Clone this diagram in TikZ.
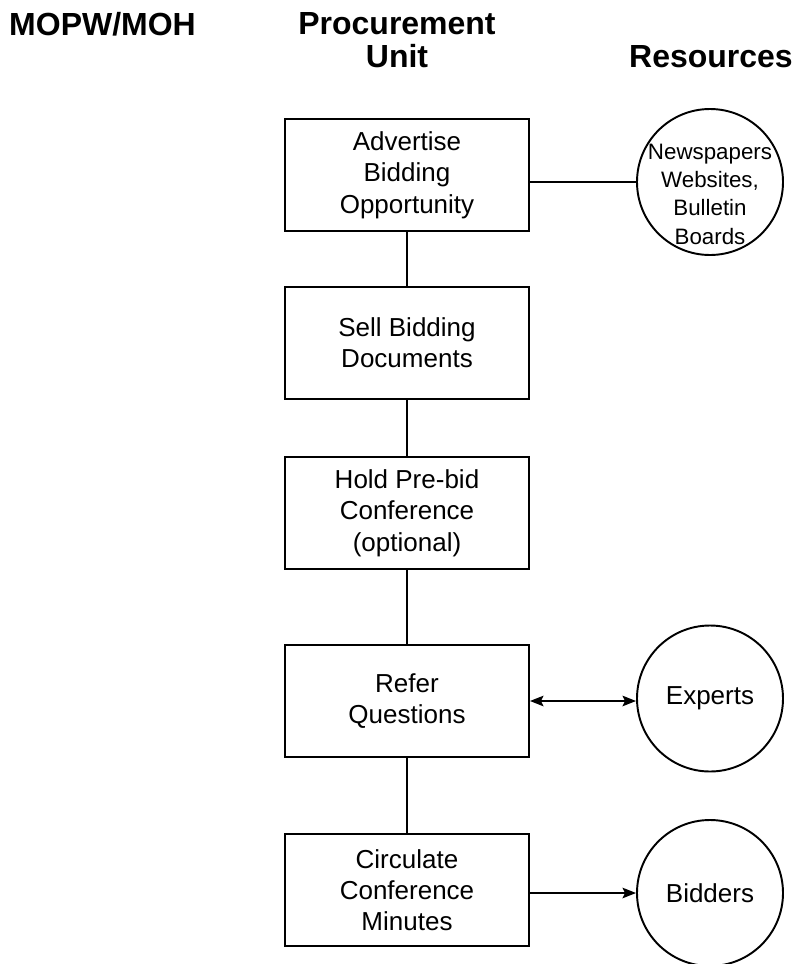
\documentclass[tikz,border=0pt]{standalone}
\usepackage{fontspec}
\setmainfont{Liberation Sans}
\usepackage{tikz}
\usetikzlibrary{calc, arrows, arrows.meta}
\tikzstyle{task}=[draw, line width=1.1pt, minimum width=4.88cm, minimum height=2.24cm, align=center, font=\fontsize{14.8}{17.8}\selectfont]
\tikzstyle{res} = [draw, circle, line width=1.1pt, minimum size=2.92cm, inner sep=0pt, align=center, font=\fontsize{14.8}{17.8}\selectfont]
\tikzstyle{head}=[align=center, font=\fontsize{18.2}{18.8}\selectfont\bfseries]

\begin{document}
\begin{tikzpicture}[node distance=2cm,auto,>={Stealth[length=0.27cm,width=0.21cm,inset=0.05cm]},line width=1.1pt]
      \useasboundingbox (0,0) rectangle (15.92,-19.28);

      \node [head] (moh) at (2.05,-0.48) {MOPW/MOH};
      \node [head] (unit) at (7.94,-0.81) {Procurement\\Unit};
      \node [head] (resh) at (14.22,-1.14) {Resources};

      \node [task] (advert) at (8.14,-3.5) {Advertise\\Bidding\\Opportunity};
      \node [task] (sell) [below of=advert, node distance=3.36cm] {Sell Bidding\\Documents};
      \node [task] (prebid) [below of=sell, node distance=3.4cm] {Hold Pre-bid\\Conference\\(optional)};
      \node [task] (refer) [below of=prebid, node distance=3.76cm] {Refer\\Questions};
      \node [task] (minutes) [below of=refer, node distance=3.78cm] {Circulate\\Conference\\Minutes};

      \node [res] (news) [right of=advert, node distance=6.06cm, yshift=-0.14cm] {};
      \node [align=center, font=\fontsize{12.7}{16.1}\selectfont] (newstext) at ($(news.center)+(0,-0.24)$) {Newspapers\\Websites,\\Bulletin\\Boards};
      \node [res] (experts) [right of=refer, node distance=6.06cm, yshift=0.05cm] {Experts};
      \node [res] (bidders) [right of=minutes, node distance=6.06cm, yshift=-0.06cm] {Bidders};

      \path (advert) edge node {} (sell);
      \path (sell) edge node {} (prebid);
      \path (prebid) edge node {} (refer);
      \path (refer) edge node {} (minutes);

      \draw (advert.east |- news.west) -- (news.west);
      \draw[<->] (refer.east) -- (refer.east -| experts.west);
      \draw[->] (minutes.east |- bidders.west) -- (bidders.west);
  \end{tikzpicture}
\end{document}
